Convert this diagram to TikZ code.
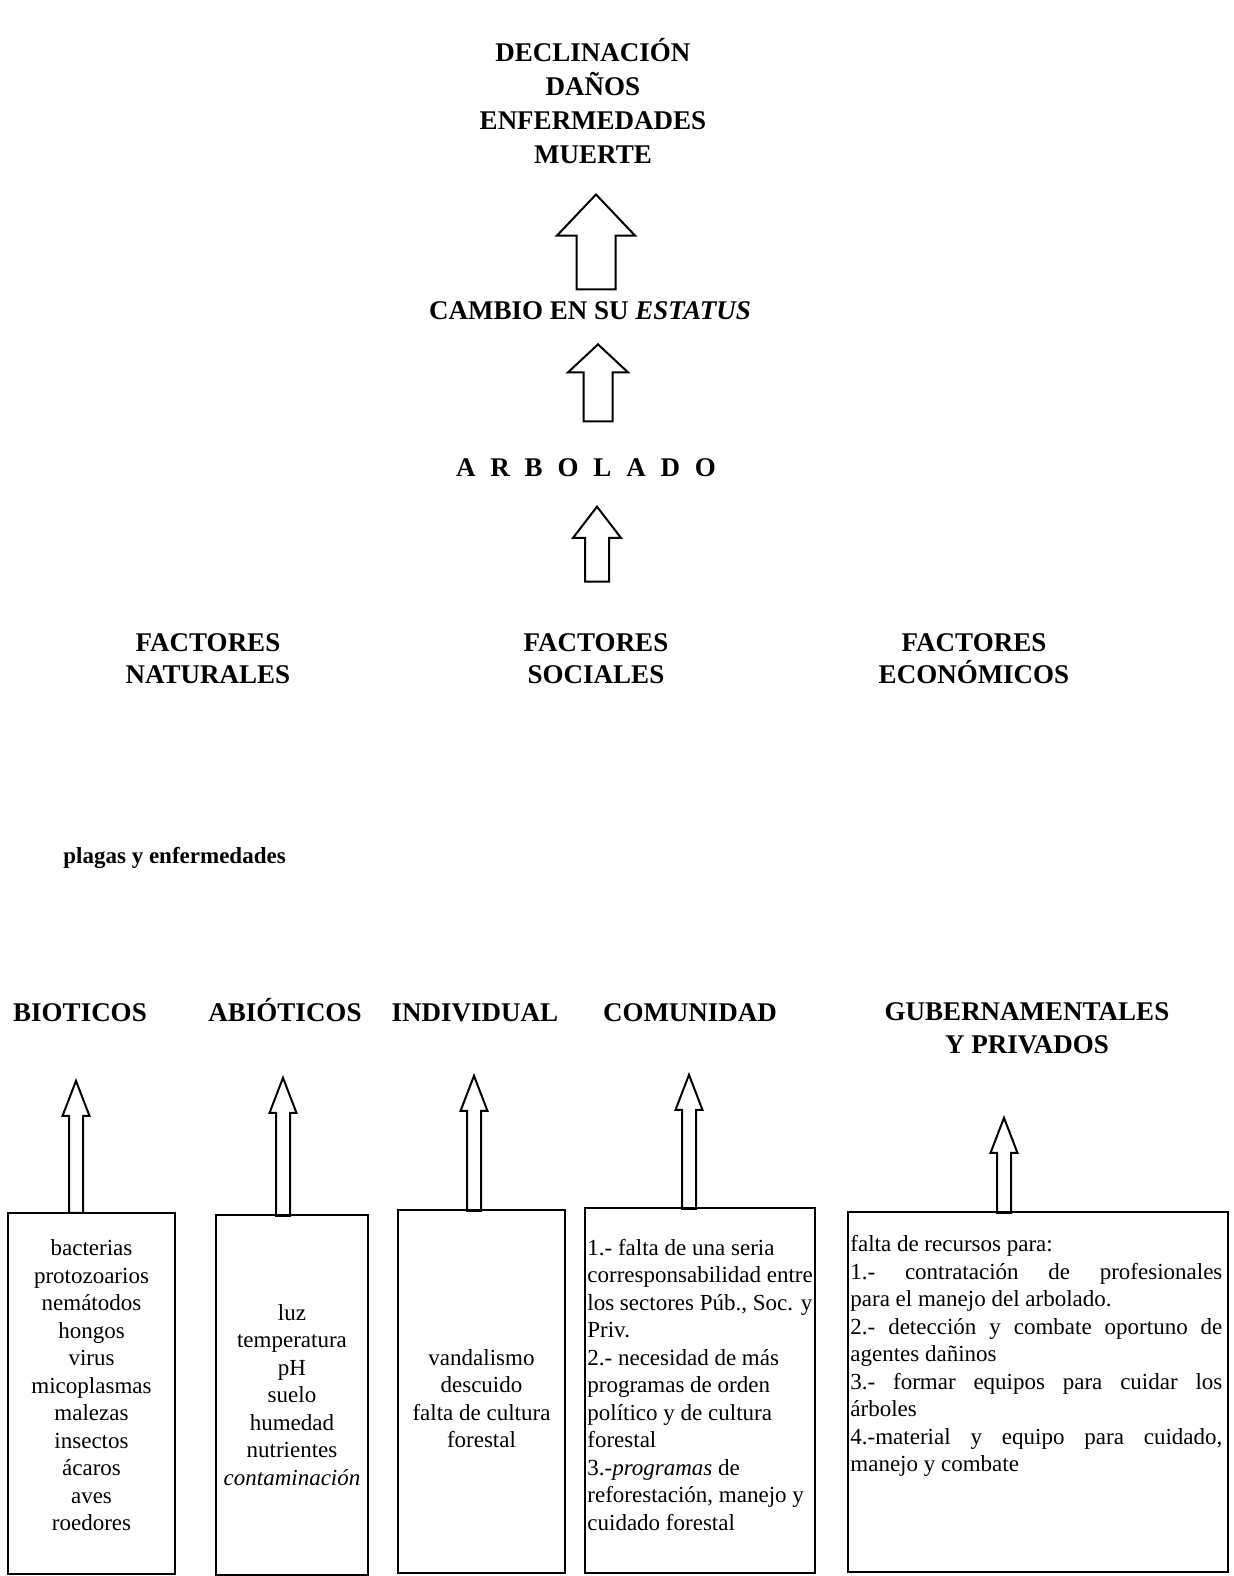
\documentclass[tikz,border=0pt]{standalone}
\usepackage{fontspec}
\setmainfont{Liberation Serif}
\usetikzlibrary{shapes.arrows}

\begin{document}
\begin{tikzpicture}[x=0.5pt, y=-0.5pt,
  titulo/.style={font=\fontsize{13.5}{17}\selectfont\bfseries, align=center, inner sep=0pt},
  rubro/.style={font=\fontsize{13.5}{16.5}\selectfont\bfseries, align=center, inner sep=0pt},
  lista/.style={font=\fontsize{11.5}{13.75}\selectfont, inner sep=0pt},
  caja/.style={draw, line width=1pt, inner sep=0pt},
  flecha/.style={single arrow, draw, line width=1pt, shape border rotate=90, anchor=tip},
  flechita/.style={flecha, inner sep=3pt, minimum width=12.5pt, single arrow head extend=3.25pt, single arrow tip angle=42}]

\useasboundingbox (0,0) rectangle (1233,1576);

% Consecuencias
\node[titulo] (consec) at (593,101) {DECLINACIÓN\\DAÑOS\\ENFERMEDADES\\MUERTE};
\node[flecha, inner sep=9.25pt, minimum height=47.5pt, minimum width=38pt, single arrow head extend=9.75pt, single arrow tip angle=87] (a1) at (596,193) {};

\node[titulo] (cambio) at (590,311) {CAMBIO EN SU \textit{ESTATUS}};
\node[flecha, inner sep=6.75pt, minimum height=38.5pt, minimum width=29pt, single arrow head extend=7.75pt, single arrow tip angle=94] (a2) at (598,343) {};

\node[titulo] (arbolado) at (586,468) {\spaceskip=0.55em A R B O L A D O};
\node[flecha, inner sep=5.5pt, minimum height=37.5pt, minimum width=23pt, single arrow head extend=6pt, single arrow tip angle=75] (a3) at (597,505) {};

% Factores
\node[rubro, font=\fontsize{13.5}{16}\selectfont\bfseries] (naturales) at (208,659) {FACTORES\\NATURALES};
\node[rubro, font=\fontsize{13.5}{16}\selectfont\bfseries] (sociales) at (596,659) {FACTORES\\SOCIALES};
\node[rubro, font=\fontsize{13.5}{16}\selectfont\bfseries] (economicos) at (974,659) {FACTORES\\ECONÓMICOS};

\node[font=\fontsize{11.5}{13}\selectfont\bfseries, anchor=west, inner sep=0pt] (plagas) at (63,858) {plagas y enfermedades};

% Rubros
\node[rubro, anchor=base] (bioticos) at (80,1021) {BIOTICOS};
\node[rubro, anchor=base] (abioticos) at (285,1021) {ABIÓTICOS};
\node[rubro, anchor=base] (individual) at (475,1021) {INDIVIDUAL};
\node[rubro, anchor=base] (comunidad) at (690,1021) {COMUNIDAD};
\node[rubro] (gubern) at (1027,1028) {GUBERNAMENTALES\\Y PRIVADOS};

% Cajas
\node[caja, minimum width=83.5pt, minimum height=180.5pt] (c1) at (91.5,1393.5) {};
\node[caja, minimum width=76pt, minimum height=180pt] (c2) at (292,1395) {};
\node[caja, minimum width=83.5pt, minimum height=181.5pt] (c3) at (481.5,1391.5) {};
\node[caja, minimum width=115pt, minimum height=182.5pt] (c4) at (700,1390.5) {};
\node[caja, minimum width=190pt, minimum height=180pt] (c5) at (1038,1392) {};

% Flechas de las cajas
\node[flechita, minimum height=66pt] (f1) at (76,1078) {};
\node[flechita, minimum height=69pt] (f2) at (283,1075) {};
\node[flechita, minimum height=67.5pt] (f3) at (474,1073) {};
\node[flechita, minimum height=67pt] (f4) at (689,1072) {};
\node[flechita, minimum height=47.5pt] (f5) at (1004,1115) {};

% Textos de las cajas
\node[lista, align=center] (l1) at (c1.center) [yshift=4pt] {bacterias\\protozoarios\\nemátodos\\hongos\\virus\\micoplasmas\\malezas\\insectos\\ácaros\\aves\\roedores};
\node[lista, align=center] (l2) at (c2.center) {luz\\temperatura\\pH\\suelo\\humedad\\nutrientes\\\textit{contaminación}};
\node[lista, align=center] (l3) at (c3.center) [yshift=-3.5pt] {vandalismo\\descuido\\falta de cultura\\forestal};
\node[lista, align=left, anchor=west] (l4) at ([xshift=1.5pt]c4.west) [yshift=3pt] {1.- falta de una seria\\corresponsabilidad entre\\los sectores Púb., Soc. y\\Priv.\\2.- necesidad de más\\programas de orden\\político y de cultura\\forestal\\3.-\textit{programas} de\\reforestación, manejo y\\cuidado forestal};
\node[lista, text width=186pt, align=justify, anchor=north west] (l5) at ([xshift=1.5pt, yshift=-12pt]c5.north west) {falta de recursos para:\\1.- contratación de profesionales\linebreak para el manejo del arbolado.\\2.- detección y combate oportuno de\linebreak agentes dañinos\\3.- formar equipos para cuidar los\linebreak árboles\\4.-material y equipo para cuidado,\linebreak manejo y combate};

\end{tikzpicture}
\end{document}
